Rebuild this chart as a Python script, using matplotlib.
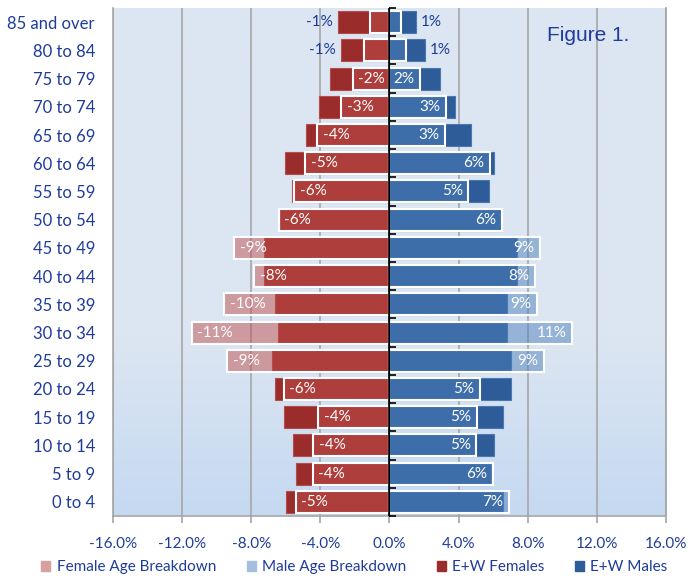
import matplotlib.pyplot as plt
import numpy as np
from matplotlib.colors import LinearSegmentedColormap
from matplotlib.patches import Patch

# age groups, bottom to top
age_groups = ['0 to 4', '5 to 9', '10 to 14', '15 to 19', '20 to 24', '25 to 29',
              '30 to 34', '35 to 39', '40 to 44', '45 to 49', '50 to 54', '55 to 59',
              '60 to 64', '65 to 69', '70 to 74', '75 to 79', '80 to 84', '85 and over']

# percentages (females negative)
female_breakdown = [-5.43, -4.45, -4.42, -4.12, -6.13, -9.4, -11.44, -9.55, -7.83, -8.99,
                    -6.42, -5.51, -4.89, -4.19, -2.8, -2.13, -1.45, -1.12]
male_breakdown = [6.92, 5.99, 5.02, 5.06, 5.22, 8.93, 10.59, 8.54, 8.43, 8.7,
                  6.49, 4.56, 5.8, 3.23, 3.28, 1.78, 0.97, 0.64]
ew_females = [-5.99, -5.39, -5.57, -6.09, -6.65, -6.77, -6.45, -6.61, -7.25, -7.25,
              -6.35, -5.66, -6.05, -4.83, -4.06, -3.42, -2.78, -2.96]
ew_males = [6.57, 5.9, 6.07, 6.59, 7.01, 7.01, 6.8, 6.8, 7.4, 7.4,
            6.45, 5.78, 6.07, 4.73, 3.77, 2.94, 2.03, 1.51]

x_ticks = [-16, -12, -8, -4, 0, 4, 8, 12, 16]

NAVY = '#1F3C9A'
GRID = '#A6A6A6'

plt.rcParams['font.family'] = ['Lato', 'DejaVu Sans']

fig = plt.figure(figsize=(6.88, 5.81), dpi=100)
ax = fig.add_axes([0.1642, 0.1119, 0.8038, 0.8743])

# plot area background gradient
bg = LinearSegmentedColormap.from_list('bg', [(0, '#C5D9F1'), (0.35, '#DCE6F2'), (1, '#DCE6F2')])
grad = np.linspace(0, 1, 256).reshape(-1, 1)
ax.imshow(grad, cmap=bg, aspect='auto', extent=[0, 1, 0, 1], origin='lower',
          transform=ax.transAxes, zorder=0)

y = np.arange(len(age_groups))
h = 0.78

ax.barh(y, ew_females, height=h, color='#9A2C2C', edgecolor='#B54B4B', linewidth=0.8, zorder=2)
ax.barh(y, ew_males, height=h, color='#2E5C98', edgecolor='#4A78B2', linewidth=0.8, zorder=2)
ax.barh(y, female_breakdown, height=h, color=(0.753, 0.314, 0.302, 0.5), edgecolor='white',
        linewidth=1.5, zorder=3)
ax.barh(y, male_breakdown, height=h, color=(0.31, 0.506, 0.741, 0.5), edgecolor='white',
        linewidth=1.5, zorder=3)

# data labels
for vals, ew in [(female_breakdown, ew_females), (male_breakdown, ew_males)]:
    for yi, v, e in zip(y, vals, ew):
        txt = f'{round(v):d}%'
        sign = 1 if v > 0 else -1
        if abs(v) < 1.5:
            end = e if abs(e) > abs(v) else v
            ax.annotate(txt, xy=(end, yi), xytext=(4 * sign, 0), textcoords='offset points',
                        ha='left' if sign > 0 else 'right', va='center', color=NAVY,
                        fontsize=11, zorder=5)
        else:
            ax.annotate(txt, xy=(v, yi), xytext=(-4 * sign, 0), textcoords='offset points',
                        ha='right' if sign > 0 else 'left', va='center', color='white',
                        fontsize=11, zorder=5)

ax.set_xlim(-16, 16)
ax.set_ylim(-0.5, len(age_groups) - 0.5)
ax.set_xticks(x_ticks)
ax.set_xticklabels([f'{t:.1f}%' for t in x_ticks])
for t in x_ticks:
    if t != 0:
        ax.axvline(t, color=GRID, linewidth=1.2, zorder=1)
ax.axvline(0, color='black', linewidth=1.2, zorder=4)

ax.set_yticks(y)
ax.set_yticklabels(age_groups)
ax.tick_params(axis='y', length=0, pad=13, labelsize=12, labelcolor=NAVY)
ax.tick_params(axis='x', length=5, width=1.2, color=GRID, pad=10, labelsize=11, labelcolor=NAVY)

for side in ['left', 'bottom', 'right']:
    ax.spines[side].set_color(GRID)
    ax.spines[side].set_linewidth(1.2)
ax.spines['top'].set_visible(False)

# category ticks on the zero axis
mid = ax.secondary_yaxis(0.5)
mid.set_yticks(np.arange(-0.5, len(age_groups), 1))
mid.set_yticklabels([])
mid.tick_params(axis='y', direction='out', length=5, width=1.2, color='black')
mid.spines['left'].set_visible(False)
mid.set_zorder(5)

ax.text(0.859, 0.945, 'Figure 1.', transform=ax.transAxes, ha='center', va='center',
        fontsize=15, color=NAVY, family='Liberation Sans', zorder=6)

handles = [Patch(color='#D9A0A0'), Patch(color='#A7BFDE'),
           Patch(color='#9A2C2C'), Patch(color='#2E5C98')]
labels = ['Female Age Breakdown', 'Male Age Breakdown', 'E+W Females', 'E+W Males']
leg = fig.legend(handles, labels, loc='lower center', bbox_to_anchor=(0.515, -0.012), ncol=4,
                 frameon=False, fontsize=11, handlelength=0.6, handleheight=0.6,
                 handletextpad=0.4, columnspacing=2.0)
for t in leg.get_texts():
    t.set_color(NAVY)

fig.savefig('out.png', dpi=100)
